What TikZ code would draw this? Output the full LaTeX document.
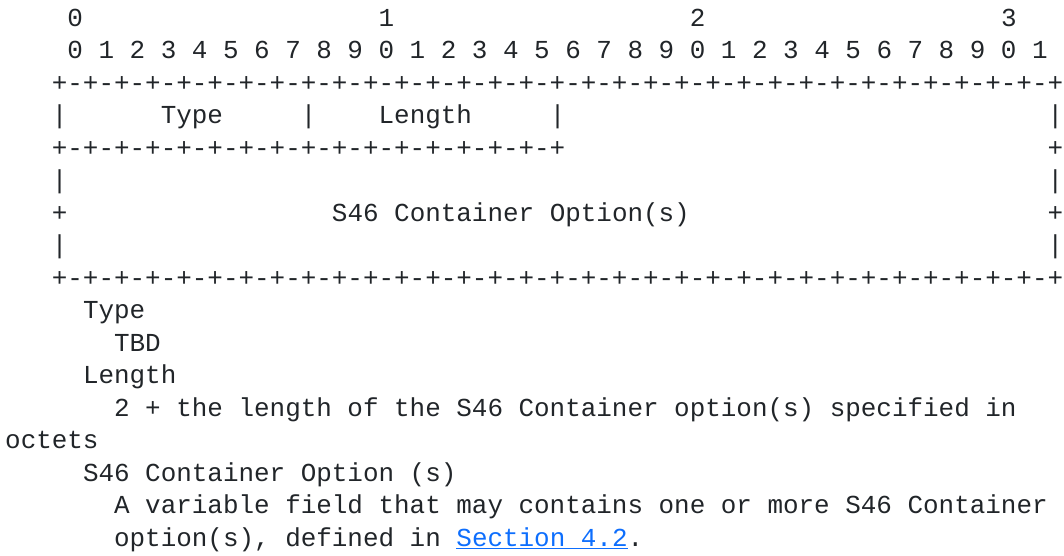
\documentclass[tikz,border=0pt]{standalone}
\usepackage{fontspec}
\newfontfamily\monof{Liberation Mono}
\definecolor{txt}{HTML}{212529}
\definecolor{lnk}{HTML}{0D6EFD}
\begin{document}
\begin{tikzpicture}[x=1pt,y=-1pt,
  t/.style={anchor=base west,inner sep=0pt,outer sep=0pt,text=txt,
    font=\monof\fontsize{25.93}{32.5}\selectfont}]
\useasboundingbox (0,0) rectangle (1064,555);
% columns: x = 5.2 + 15.56*c ; rows: baseline y = 26 + 32.5*r
\node[t] (h0) at ({5.2+15.56*4},{26+32.5*0}) {0};
\node[t] (h1) at ({5.2+15.56*24},{26+32.5*0}) {1};
\node[t] (h2) at ({5.2+15.56*44},{26+32.5*0}) {2};
\node[t] (h3) at ({5.2+15.56*64},{26+32.5*0}) {3};
\node[t] (bits) at ({5.2+15.56*4},{26+32.5*1}) {0 1 2 3 4 5 6 7 8 9 0 1 2 3 4 5 6 7 8 9 0 1 2 3 4 5 6 7 8 9 0 1};
\node[t] (rule1) at ({5.2+15.56*3},{26+32.5*2}) {+-+-+-+-+-+-+-+-+-+-+-+-+-+-+-+-+-+-+-+-+-+-+-+-+-+-+-+-+-+-+-+-+};
% row 3
\node[t] (p3a) at ({5.2+15.56*3},{26+32.5*3}) {|};
\node[t] (ftype) at ({5.2+15.56*10},{26+32.5*3}) {Type};
\node[t] (p3b) at ({5.2+15.56*19},{26+32.5*3}) {|};
\node[t] (flen) at ({5.2+15.56*24},{26+32.5*3}) {Length};
\node[t] (p3c) at ({5.2+15.56*35},{26+32.5*3}) {|};
\node[t] (p3d) at ({5.2+15.56*67},{26+32.5*3}) {|};
% row 4
\node[t] (rule2) at ({5.2+15.56*3},{26+32.5*4}) {+-+-+-+-+-+-+-+-+-+-+-+-+-+-+-+-+};
\node[t] (p4d) at ({5.2+15.56*67},{26+32.5*4}) {+};
% row 5
\node[t] (p5a) at ({5.2+15.56*3},{26+32.5*5}) {|};
\node[t] (p5d) at ({5.2+15.56*67},{26+32.5*5}) {|};
% row 6
\node[t] (p6a) at ({5.2+15.56*3},{26+32.5*6}) {+};
\node[t] (fopt) at ({5.2+15.56*21},{26+32.5*6}) {S46 Container Option(s)};
\node[t] (p6d) at ({5.2+15.56*67},{26+32.5*6}) {+};
% row 7
\node[t] (p7a) at ({5.2+15.56*3},{26+32.5*7}) {|};
\node[t] (p7d) at ({5.2+15.56*67},{26+32.5*7}) {|};
% row 8
\node[t] (rule3) at ({5.2+15.56*3},{26+32.5*8}) {+-+-+-+-+-+-+-+-+-+-+-+-+-+-+-+-+-+-+-+-+-+-+-+-+-+-+-+-+-+-+-+-+};
% description
\node[t] (d1) at ({5.2+15.56*5},{26+32.5*9}) {Type};
\node[t] (d2) at ({5.2+15.56*7},{26+32.5*10}) {TBD};
\node[t] (d3) at ({5.2+15.56*5},{26+32.5*11}) {Length};
\node[t] (d4) at ({5.2+15.56*7},{26+32.5*12}) {2 + the length of the S46 Container option(s) specified in};
\node[t] (d5) at ({5.2+15.56*0},{26+32.5*13}) {octets};
\node[t] (d6) at ({5.2+15.56*5},{26+32.5*14}) {S46 Container Option (s)};
\node[t] (d7) at ({5.2+15.56*7},{26+32.5*15}) {A variable field that may contains one or more S46 Container};
\node[t] (d8) at ({5.2+15.56*7},{26+32.5*16}) {option(s), defined in};
\node[t,text=lnk] (link) at ({5.2+15.56*29},{26+32.5*16}) {Section 4.2};
\node[t] (dot) at ({5.2+15.56*40},{26+32.5*16}) {.};
\draw[lnk,line width=1.2pt] ([yshift=-2.6pt]link.base west) -- ([yshift=-2.6pt]link.base east);
\end{tikzpicture}
\end{document}
